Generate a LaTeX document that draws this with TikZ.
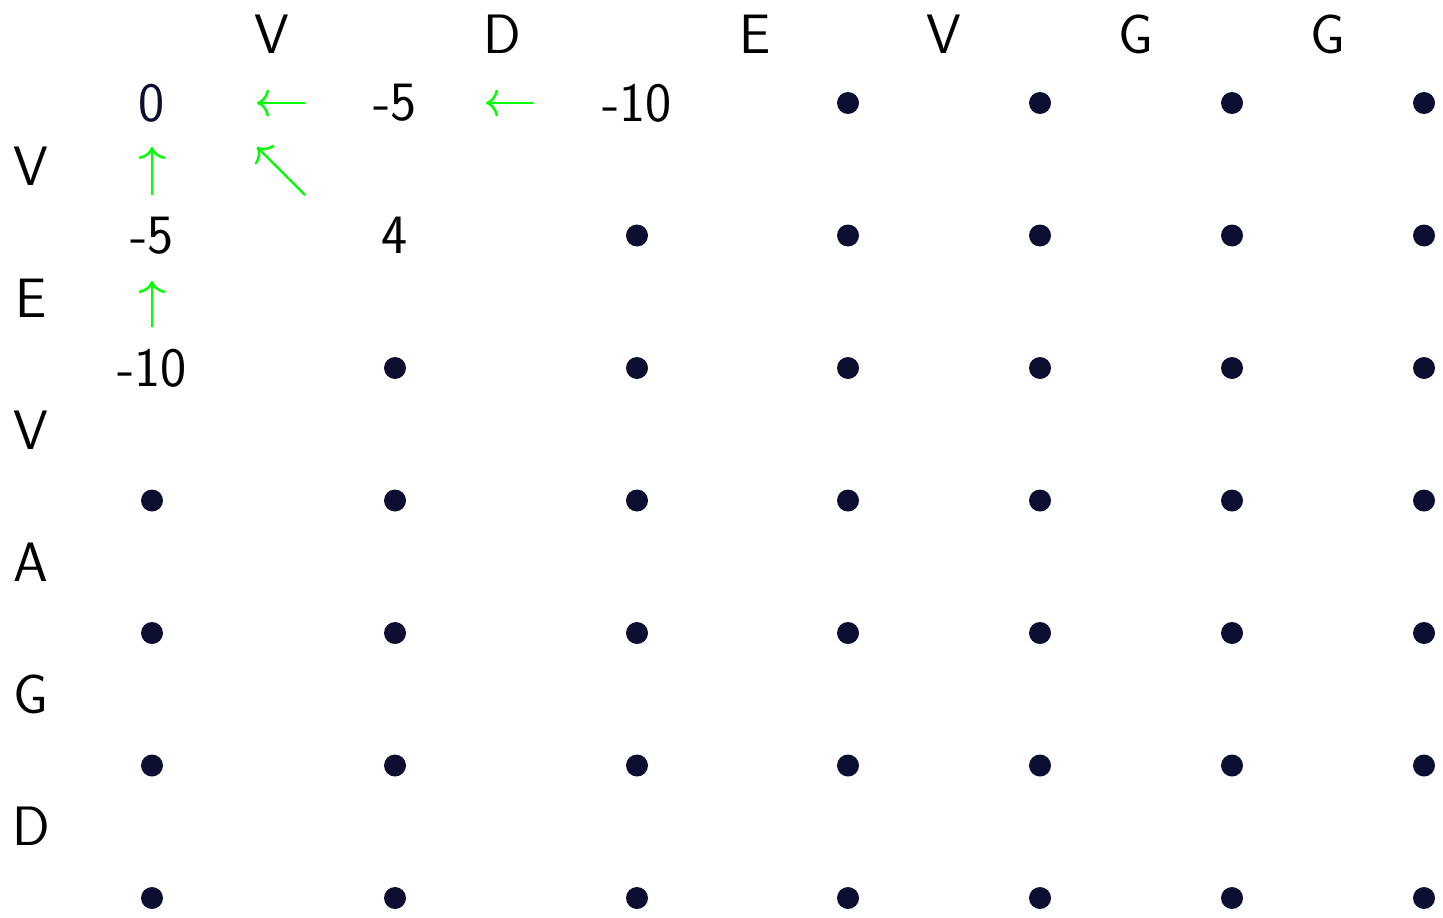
\documentclass[tikz,border=0pt]{standalone}
\usepackage{tikz}
\usetikzlibrary{arrows.meta,positioning}
\definecolor{dotcolor}{RGB}{12,15,50}
\definecolor{tracecolor}{RGB}{0,255,0}
\renewcommand{\familydefault}{\sfdefault}
\tikzset{
  seq/.style={font=\fontsize{15.8}{19}\selectfont, inner sep=0pt},
  num/.style={font=\fontsize{15.8}{19}\selectfont, inner sep=0pt},
  dot/.style={circle, fill=dotcolor, minimum size=2.2mm, inner sep=0pt},
  trace/.style={->, tracecolor, line width=0.7pt}
}

\begin{document}
\begin{tikzpicture}[>={To[length=1.2mm,width=2.7mm]}]
    \useasboundingbox (0,0) rectangle (14.43,-9.18);
    % --- sequence letters ---
    \foreach \ch/\x [count=\i] in {V/2.72,D/5.02,E/7.55,V/9.44,G/11.36,G/13.28}
      \node[seq] (top-\i) at (\x,-0.34) {\ch};
    \foreach \ch/\y [count=\i] in {V/1.66,E/2.98,V/4.30,A/5.62,G/6.94,D/8.26}
      \node[seq] (side-\i) at (0.31,-\y) {\ch};
    % --- filled cells ---
    \node[num, text=dotcolor] (c-1-1) at (1.52,-1.03) {0};
    \node[num] (c-1-2) at (3.95,-1.03) {-5};
    \node[num] (c-1-3) at (6.37,-1.03) {-10};
    \node[num] (c-2-1) at (1.52,-2.355) {-5};
    \node[num] (c-2-2) at (3.95,-2.355) {4};
    \node[num] (c-3-1) at (1.52,-3.68) {-10};
    % --- empty cells ---
    \foreach \y/\s [count=\r] in {1.03/4,2.355/3,3.68/2,5.005/1,6.33/1,7.655/1,8.98/1}
      \foreach \x [count=\c] in {1.52,3.95,6.37,8.48,10.40,12.32,14.24}
        {\ifnum\c<\s\relax\else\node[dot] (c-\r-\c) at (\x,-\y) {};\fi}
    % --- traceback arrows ---
    \coordinate (left-1-from) at (3.05,-1.03);
    \coordinate (left-1-to) at (2.57,-1.03);
    \coordinate (left-2-from) at (5.33,-1.03);
    \coordinate (left-2-to) at (4.86,-1.03);
    \coordinate (up-1-from) at (1.52,-1.95);
    \coordinate (up-1-to) at (1.52,-1.47);
    \coordinate (up-2-from) at (1.52,-3.27);
    \coordinate (up-2-to) at (1.52,-2.81);
    \coordinate (diag-from) at (3.05,-1.95);
    \coordinate (diag-to) at (2.57,-1.47);
    \draw[trace] (left-1-from) -- (left-1-to);
    \draw[trace] (left-2-from) -- (left-2-to);
    \draw[trace] (up-1-from) -- (up-1-to);
    \draw[trace] (up-2-from) -- (up-2-to);
    \draw[trace] (diag-from) -- (diag-to);
  \end{tikzpicture}
\end{document}
